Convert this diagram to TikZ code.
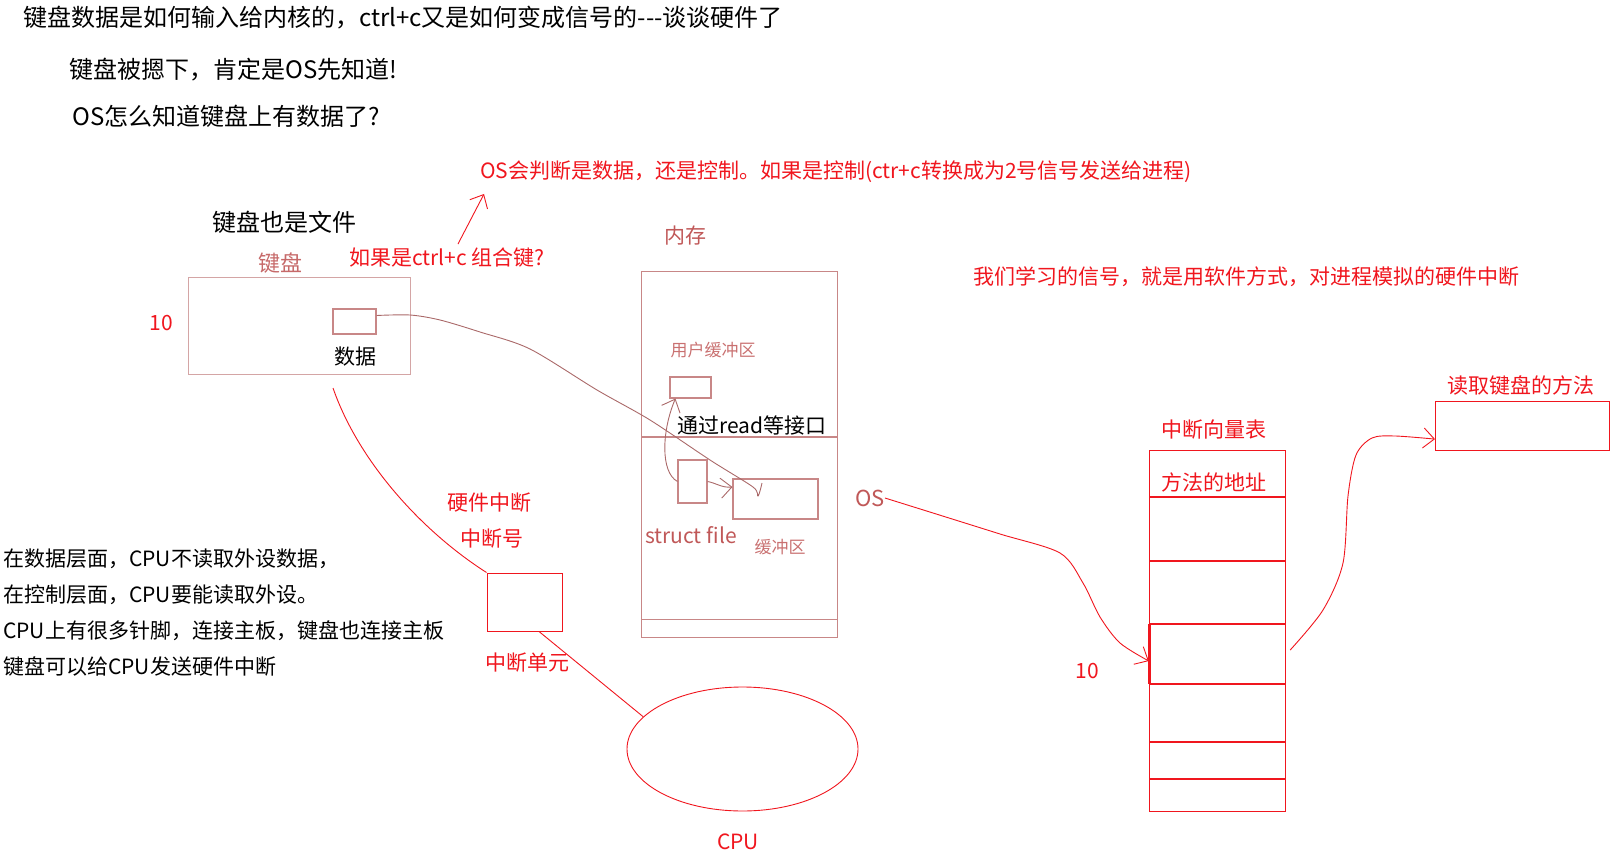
\documentclass[tikz,border=0pt]{standalone}
\usepackage{fontspec}
\setmainfont{Noto Sans CJK SC}
\usetikzlibrary{arrows.meta,positioning,shapes.geometric}
\definecolor{inkred}{RGB}{240,22,30}
\definecolor{memline}{RGB}{200,135,135}
\definecolor{memtext}{RGB}{192,88,88}
\definecolor{kbline}{RGB}{212,165,165}
\definecolor{curvebrown}{RGB}{170,105,105}

\tikzset{
  txt/.style={font=\fontsize{21}{25}\selectfont, inner sep=0pt},
  bigtxt/.style={font=\fontsize{24}{28}\selectfont, inner sep=0pt},
  redtxt/.style={txt, text=inkred},
  memtxt/.style={txt, text=memtext},
  smalltxt/.style={font=\fontsize{17}{20}\selectfont, inner sep=0pt, text=memtext!85},
  redline/.style={draw=inkred, line width=0.9pt},
  barb/.style={-{Straight Barb[length=11pt,width=20pt]}},
  membox/.style={draw=memline, line width=1.1pt, inner sep=0pt},
  tabline/.style={draw=inkred, line width=1.4pt}
}

\begin{document}
\begin{tikzpicture}[x=1pt, y=-1pt]
        \useasboundingbox (0,0) rectangle (1620,861);

        % Questions on top
        \node[bigtxt, anchor=west] (title) at (23,18) {键盘数据是如何输入给内核的，ctrl+c又是如何变成信号的-{}-{}-谈谈硬件了};
        \node[bigtxt, anchor=west] (pressed) at (69,70) {键盘被摁下，肯定是OS先知道!};
        \node[bigtxt, anchor=west] (howknow) at (72,116) {OS怎么知道键盘上有数据了?};

        \node[redtxt, anchor=west] (judge) at (480,172) {OS会判断是数据，还是控制。如果是控制(ctr+c转换成为2号信号发送给进程)};
        \node[redtxt, anchor=west] (softsig) at (973,277) {我们学习的信号，就是用软件方式，对进程模拟的硬件中断};

        % Keyboard
        \node[bigtxt, anchor=west] (kbfile) at (212,222) {键盘也是文件};
        \node[txt, text=memtext!90, font=\fontsize{22}{26}\selectfont] (kblabel) at (280,263) {键盘};
        \node[redtxt, anchor=west] (ifctrl) at (349,258) {如果是ctrl+c 组合键?};
        \node[draw=kbline, line width=1.1pt, minimum width=222pt, minimum height=97pt, anchor=north west] (kb) at (188,277) {};
        \node[redtxt] (kbno) at (161,323) {10};
        \node[membox, minimum width=43pt, minimum height=25pt] (databox) at (354.5,321.5) {};
        \node[txt] (datatxt) at (355,357) {数据};
        \coordinate (judgetip) at (484,194);
        \draw[redline, barb] ([xshift=11pt,yshift=4pt]ifctrl.north) -- (judgetip);

        % Memory
        \node[memtxt, font=\fontsize{21}{25}\selectfont] (memlabel) at (685,236) {内存};
        \node[membox, minimum width=196pt, minimum height=366pt, anchor=north west] (mem) at (641,271) {};
        \draw[memline, line width=1.1pt] ([yshift=-166pt]mem.north west) -- ([yshift=-166pt]mem.north east);
        \draw[memline, line width=1.1pt] ([yshift=19pt]mem.south west) -- ([yshift=19pt]mem.south east);
        \node[smalltxt] (ubuflabel) at (713,350) {用户缓冲区};
        \node[membox, minimum width=41pt, minimum height=21pt] (ubuf) at (690.5,387.5) {};
        \node[txt, anchor=west] (readif) at (677,425) {通过read等接口};
        \node[membox, minimum width=29pt, minimum height=43pt] (sfbox) at (692.5,481.5) {};
        \node[membox, minimum width=85pt, minimum height=40pt] (kbuf) at (775.5,499) {};
        \node[memtxt, anchor=west] (sftxt) at (645,535) {struct file};
        \node[smalltxt] (kbuftxt) at (780,547) {缓冲区};
        \node[memtxt, font=\fontsize{22}{26}\selectfont] (ostxt) at (870,498) {OS};

        % Data path into the kernel buffer
        \draw[curvebrown, line width=0.9pt] plot[smooth, tension=0.5] coordinates
          {([yshift=6pt]databox.east) (410,315) (440,320) (480,332) (530,349) (597,390) (650,420) (710,460) (753,487) (758,496) (762,483)};
        \draw[curvebrown, line width=0.9pt, barb] (sfbox.west) .. controls (660,472) and (662,430) .. ([xshift=6pt]ubuf.south west);
        \draw[curvebrown, line width=0.9pt, barb] (sfbox.east) .. controls (716,483) and (722,488) .. ([yshift=12pt]kbuf.west);

        % Hardware interrupt
        \node[redtxt] (hwint) at (489,503) {硬件中断};
        \node[redtxt] (intno) at (492,539) {中断号};
        \node[draw=inkred, line width=1pt, minimum width=75pt, minimum height=58pt] (intbox) at (524.5,602) {};
        \node[redtxt] (intunit) at (527,663) {中断单元};
        \coordinate (kbtail) at (333,388);
        \draw[redline] (kbtail) .. controls (358,460) and (420,530) .. (intbox.north west);

        % CPU
        \node[draw=inkred, line width=0.9pt, ellipse, minimum width=231pt, minimum height=124pt] (cpu) at (742.5,749) {};
        \node[redtxt] (cputxt) at (738,842) {CPU};
        \draw[redline] ([xshift=14.5pt]intbox.south) -- (cpu.162);

        % Notes on the left
        \node[txt, anchor=west] (note1) at (3,559) {在数据层面，CPU不读取外设数据，};
        \node[txt, anchor=west] (note2) at (3,595) {在控制层面，CPU要能读取外设。};
        \node[txt, anchor=west] (note3) at (3,631) {CPU上有很多针脚，连接主板，键盘也连接主板};
        \node[txt, anchor=west] (note4) at (3,666) {键盘可以给CPU发送硬件中断};

        % Interrupt vector table
        \node[redtxt] (ivtlabel) at (1214,430) {中断向量表};
        \node[tabline, minimum width=136pt, minimum height=361pt, anchor=north west, inner sep=0pt] (ivt) at (1149,450) {};
        \foreach \yy in {497,561,624,684,742,779}
          \draw[tabline] (1149,\yy) -- (1285,\yy);
        \draw[inkred, line width=2.4pt] (1149.5,624) -- (1149.5,684);
        \node[redtxt] (addrtxt) at (1214,482) {方法的地址};
        \node[inner sep=0pt, minimum width=136pt, minimum height=60pt] (row10) at (1217,654) {};
        \node[redtxt] (ivtno) at (1087,671) {10};
        \draw[redline, barb] plot[smooth, tension=0.5] coordinates
          {(ostxt.east) (933,513) (1000,534) (1060,553) (1083,583) (1100,617) (1120,643) ([yshift=-7pt]row10.west)};

        % Keyboard read routine
        \node[redtxt] (mlabel) at (1521,385) {读取键盘的方法};
        \node[draw=inkred, line width=1.2pt, minimum width=174pt, minimum height=49pt, anchor=north west] (mbox) at (1435,401) {};
        \draw[redline, barb] plot[smooth, tension=0.5] coordinates
          {([xshift=5pt,yshift=4pt]row10.east) (1323,610) (1343,563) (1348,496) (1356,455) (1372,438) (1395,436) ([yshift=-13pt]mbox.west)};
    \end{tikzpicture}
\end{document}
